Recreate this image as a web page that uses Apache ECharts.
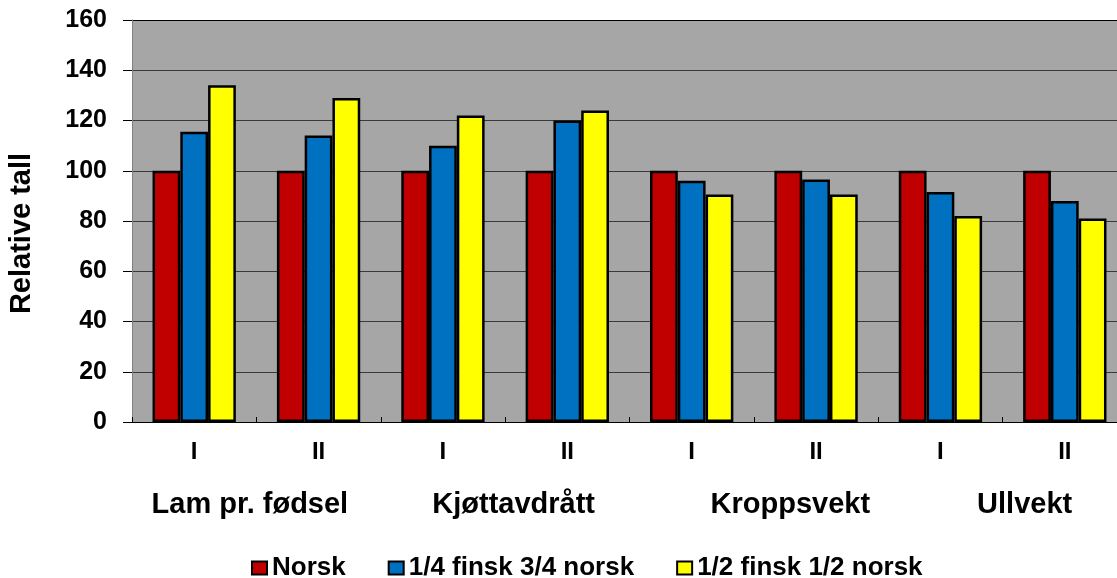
<!DOCTYPE html>
<html>
<head>
<meta charset="utf-8">
<script src="https://cdn.jsdelivr.net/npm/echarts@6/dist/echarts.min.js"></script>
<style>
  html, body { margin: 0; padding: 0; background: #ffffff; }
  #chart { width: 1117px; height: 578px; }
</style>
</head>
<body>
<div id="chart"></div>
<script>
// Sub-category ticks (two periods per trait) and trait groups
const categories = ['I', 'II', 'I', 'II', 'I', 'II', 'I', 'II'];
const groups = ['Lam pr. fødsel', 'Kjøttavdrått', 'Kroppsvekt', 'Ullvekt'];

// Relative values per crossbreed (Norsk = 100)
const norsk = [100, 100, 100, 100, 100, 100, 100, 100];
const kvartFinsk = [115.5, 114, 110, 120, 96, 96.5, 91.5, 88];
const halvFinsk = [134, 129, 122, 124, 90.5, 90.5, 82, 81];

const seriesNames = ['Norsk', '1/4 finsk 3/4 norsk', '1/2 finsk 1/2 norsk'];
const yTicks = { min: 0, max: 160, interval: 20 };

const FONT = '"Liberation Sans", Arial, sans-serif';
const colors = ['#C00000', '#0070C0', '#FFFF00'];

// Nudges so each trait name sits where it belongs under its pair of bars
const groupPad = [[0, 13, 0, 0], [0, 0, 0, 17], [0, 0, 0, 73], [0, 0, 0, 44]];

// Gridlines are dark grey, the top (160) line closes the plot in black
const gridColors = ['#3a3a3a', '#3a3a3a', '#3a3a3a', '#3a3a3a', '#3a3a3a',
                    '#3a3a3a', '#3a3a3a', '#3a3a3a', '#000000'];

const chart = echarts.init(document.getElementById('chart'), null, { renderer: 'canvas' });

const barStyle = (c) => ({ color: c, borderColor: '#000000', borderWidth: 2.5 });

chart.setOption({
  animation: false,
  backgroundColor: '#ffffff',
  textStyle: { fontFamily: FONT, fontWeight: 'bold', color: '#000000' },
  grid: {
    left: 132,
    top: 20,
    width: 995,
    height: 402,
    outerBoundsMode: 'none',
    containLabel: false,
    show: true,
    backgroundColor: '#A6A6A6',
    borderWidth: 0
  },
  legend: {
    left: 246,
    top: 550,
    itemWidth: 15,
    itemHeight: 13,
    itemGap: 42,
    icon: 'rect',
    data: seriesNames,
    textStyle: { fontFamily: FONT, fontWeight: 'bold', fontSize: 26, color: '#000000' }
  },
  xAxis: [
    {
      type: 'category',
      data: categories,
      position: 'bottom',
      axisLine: { show: true, lineStyle: { color: '#000000', width: 1 } },
      axisTick: { show: true, inside: true, length: 5, lineStyle: { color: '#000000' } },
      axisLabel: {
        interval: 0, margin: 18,
        fontFamily: FONT, fontWeight: 'bold', fontSize: 24, color: '#000000'
      },
      splitLine: { show: false }
    },
    {
      type: 'category',
      data: groups.map((g, i) => ({ value: g, textStyle: { padding: groupPad[i] } })),
      position: 'bottom',
      gridIndex: 0,
      axisLine: { show: false },
      axisTick: { show: false },
      axisLabel: {
        interval: 0, margin: 68,
        fontFamily: FONT, fontWeight: 'bold', fontSize: 29, color: '#000000'
      },
      splitLine: { show: false }
    }
  ],
  yAxis: {
    type: 'value',
    min: yTicks.min,
    max: yTicks.max,
    interval: yTicks.interval,
    name: 'Relative tall',
    nameLocation: 'middle',
    nameGap: 96,
    nameRotate: 90,
    nameTextStyle: {
      fontFamily: FONT, fontWeight: 'bold', fontSize: 29, color: '#000000',
      padding: [0, 25, 0, 0]
    },
    axisLine: { show: true, lineStyle: { color: '#808080', width: 1 } },
    axisTick: { show: true, inside: false, length: 9, lineStyle: { color: '#000000' } },
    axisLabel: {
      margin: 25,
      fontFamily: FONT, fontWeight: 'bold', fontSize: 25, color: '#000000'
    },
    splitLine: { show: true, lineStyle: { color: gridColors, width: 1 } }
  },
  series: [
    { name: seriesNames[0], type: 'bar', data: norsk, itemStyle: barStyle(colors[0]),
      barGap: '0%', barCategoryGap: '33%' },
    { name: seriesNames[1], type: 'bar', data: kvartFinsk, itemStyle: barStyle(colors[1]),
      barGap: '0%', barCategoryGap: '33%' },
    { name: seriesNames[2], type: 'bar', data: halvFinsk, itemStyle: barStyle(colors[2]),
      barGap: '0%', barCategoryGap: '33%' }
  ]
});
</script>
</body>
</html>
